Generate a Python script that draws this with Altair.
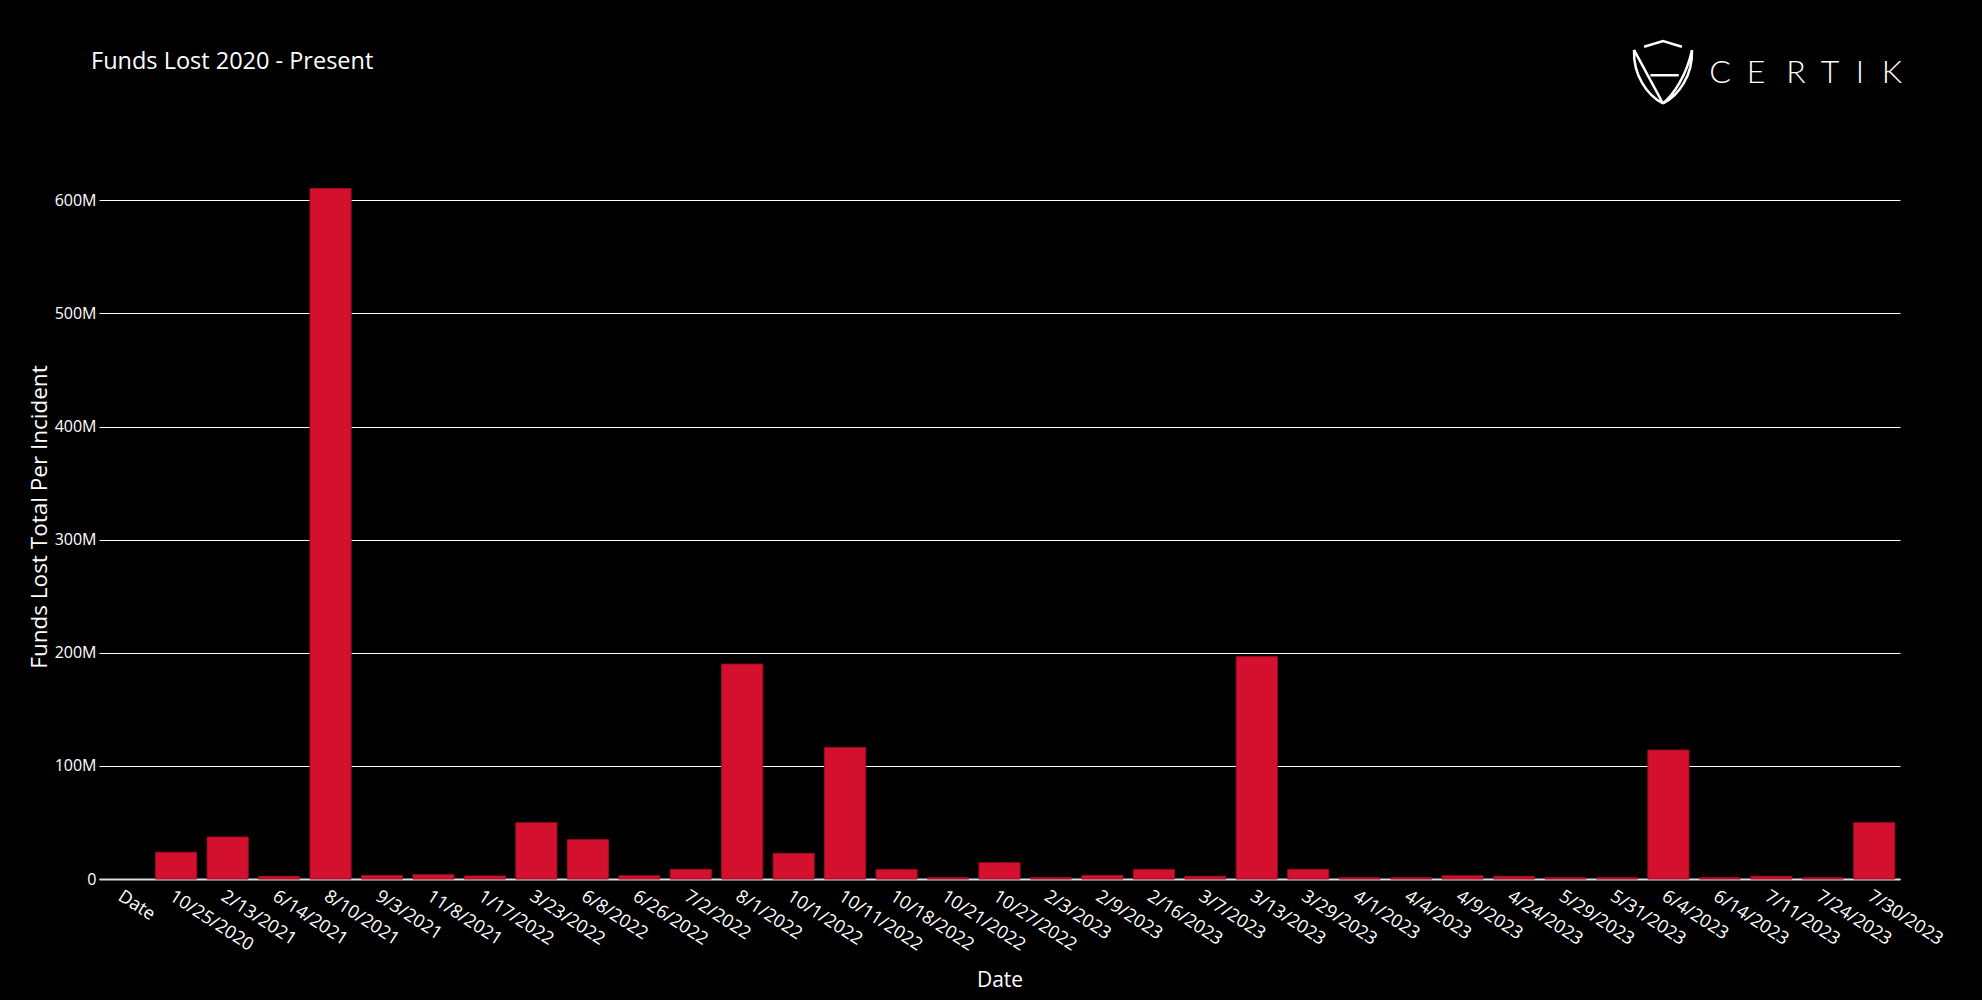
import altair as alt
import pandas as pd

# ---- data ----
dates = [
    "Date", "10/25/2020", "2/13/2021", "6/14/2021", "8/10/2021", "9/3/2021",
    "11/8/2021", "1/17/2022", "3/23/2022", "6/8/2022", "6/26/2022", "7/2/2022",
    "8/1/2022", "10/1/2022", "10/11/2022", "10/18/2022", "10/21/2022",
    "10/27/2022", "2/3/2023", "2/9/2023", "2/16/2023", "3/7/2023", "3/13/2023",
    "3/29/2023", "4/1/2023", "4/4/2023", "4/9/2023", "4/24/2023", "5/29/2023",
    "5/31/2023", "6/4/2023", "6/14/2023", "7/11/2023", "7/24/2023", "7/30/2023",
]
# funds lost per incident, USD
funds_lost = [
    None, 23.6e6, 37.1e6, 2.4e6, 610.5e6, 3.2e6,
    3.8e6, 2.7e6, 49.8e6, 34.8e6, 2.9e6, 8.5e6,
    190e6, 22.7e6, 116.2e6, 8.3e6, 1.2e6,
    14.4e6, 1.2e6, 3.2e6, 8.3e6, 2.4e6, 196.6e6,
    8.5e6, 1.2e6, 1.2e6, 2.9e6, 2.4e6, 1.2e6,
    1.2e6, 114e6, 1.2e6, 2.4e6, 1.2e6, 49.8e6,
]
y_ticks = [0, 100e6, 200e6, 300e6, 400e6, 500e6, 600e6]
title_text = "Funds Lost 2020 - Present"
logo_letters = ["C", "E", "R", "T", "I", "K"]

# make the page itself black, like the reference (purely cosmetic)
try:
    import altair.utils.html as _ahtml
    _orig_tpl = _ahtml.TEMPLATES["standard"]

    class _BlackPage:
        def render(self, *args, **kwargs):
            html = _orig_tpl.render(*args, **kwargs)
            style = "<style>html,body{background:#000;}</style>"
            if "<head>" in html:
                return html.replace("<head>", "<head>" + style, 1)
            return style + html

    _ahtml.TEMPLATES["standard"] = _BlackPage()
except Exception:
    pass

df = pd.DataFrame({"Date": dates, "Funds": funds_lost})

W, H = 1801, 725
FONT = "Open Sans"

bars = alt.Chart(df).mark_bar(
    color="#D3112E", stroke="#9E0C22", strokeWidth=1
).encode(
    x=alt.X(
        "Date:N",
        sort=dates,
        scale=alt.Scale(domain=dates, paddingInner=0.2, paddingOuter=0.1),
        axis=alt.Axis(
            title="Date",
            titleFont=FONT, titleFontSize=21, titleFontWeight="normal",
            titleColor="white", titleX=W / 2, titleY=107,
            titleBaseline="alphabetic", titleAlign="center",
            labelFont=FONT, labelFontSize=18, labelColor="white",
            labelAngle=33, labelAlign="left", labelBaseline="top",
            labelPadding=8, labelOverlap=False, labelBound=False,
            ticks=False, grid=False,
            domain=True, domainColor="#d9d9e3", domainWidth=2,
        ),
    ),
    y=alt.Y(
        "Funds:Q",
        scale=alt.Scale(domain=[0, 641e6], nice=False, zero=True),
        axis=alt.Axis(
            title="Funds Lost Total Per Incident",
            titleFont=FONT, titleFontSize=22.5, titleFontWeight="normal",
            titleColor="white", titleAngle=270, titleX=-60, titleY=H / 2,
            titleAlign="center", titleBaseline="middle",
            values=y_ticks,
            labelExpr="datum.value == 0 ? '0' : format(datum.value / 1e6, 'd') + 'M'",
            labelFont=FONT, labelFontSize=16, labelColor="white",
            labelPadding=3, ticks=False, domain=False,
            grid=True, gridColor="white", gridWidth=1,
        ),
    ),
)

title_layer = alt.Chart(pd.DataFrame({"t": [title_text]})).mark_text(
    font=FONT, fontSize=23.5, color="white", align="left", baseline="alphabetic"
).encode(text="t:N", x=alt.value(-8), y=alt.value(-85))

letter_x = [1621, 1657, 1697, 1731, 1761, 1793]
logo_layers = []
for letter, lx in zip(logo_letters, letter_x):
    logo_layers.append(
        alt.Chart(pd.DataFrame({"t": [letter]})).mark_text(
            font="Lato", fontWeight=300, fontSize=32, color="white",
            align="center", baseline="alphabetic"
        ).encode(text="t:N", x=alt.value(lx), y=alt.value(-71))
    )

shield_path = (
    "M -0.6,-0.8 L 0,-0.98 L 0.6,-0.8 "
    "M -0.92,-0.7 C -0.95,0.1 -0.5,0.75 0,1 "
    "M 0.92,-0.7 C 0.95,0.1 0.5,0.75 0,1 "
    "M -0.92,-0.7 L 0,1 "
    "M 0.92,-0.7 C 0.75,0.1 0.35,0.7 0,1 "
    "M -0.4,0.1 L 0.5,0.1"
)
shield = alt.Chart(pd.DataFrame({"t": ["logo"]})).mark_point(
    shape=shield_path, size=3969, filled=False, stroke="white",
    strokeWidth=2.5, opacity=1
).encode(x=alt.value(1564), y=alt.value(-82))

chart = alt.layer(bars, title_layer, *logo_layers, shield).properties(
    width=W, height=H,
    padding={"left": 91, "top": 146, "right": 74, "bottom": 113},
    autosize=alt.AutoSizeParams(type="none"),
    background="black",
).configure_view(stroke=None)

chart.save("out.html", embed_options={"renderer": "svg", "actions": False})
